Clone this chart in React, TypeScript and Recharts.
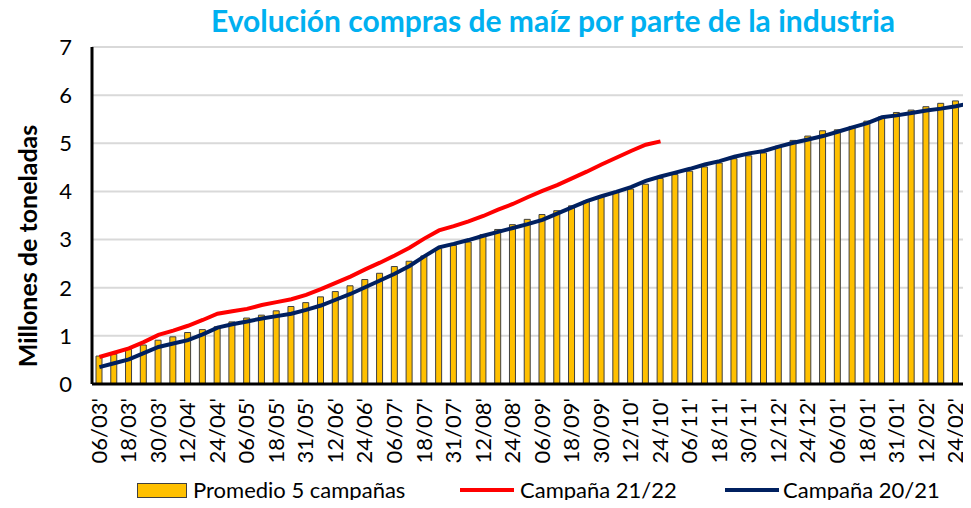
import React from 'react';
import {
  ComposedChart,
  Bar,
  Line,
  XAxis,
  YAxis,
  CartesianGrid,
  Legend,
  Label,
} from 'recharts';

const fechas = [
  "06/03'", "12/03'", "18/03'", "24/03'", "30/03'", "06/04'", "12/04'", "18/04'", "24/04'", "30/04'",
  "06/05'", "12/05'", "18/05'", "24/05'", "31/05'", "06/06'", "12/06'", "18/06'", "24/06'", "30/06'",
  "06/07'", "12/07'", "18/07'", "24/07'", "31/07'", "06/08'", "12/08'", "18/08'", "24/08'", "31/08'",
  "06/09'", "12/09'", "18/09'", "24/09'", "30/09'", "06/10'", "12/10'", "18/10'", "24/10'", "31/10'",
  "06/11'", "12/11'", "18/11'", "24/11'", "30/11'", "06/12'", "12/12'", "18/12'", "24/12'", "31/12'",
  "06/01'", "12/01'", "18/01'", "24/01'", "31/01'", "06/02'", "12/02'", "18/02'", "24/02'", "28/02'",
];

const promedio5 = [
  0.58, 0.62, 0.72, 0.81, 0.91, 0.98, 1.07, 1.13, 1.19, 1.29,
  1.37, 1.43, 1.52, 1.61, 1.69, 1.81, 1.92, 2.04, 2.17, 2.3,
  2.44, 2.55, 2.66, 2.81, 2.88, 2.95, 3.1, 3.21, 3.31, 3.42,
  3.52, 3.6, 3.7, 3.8, 3.9, 4.0, 4.05, 4.15, 4.27, 4.35,
  4.42, 4.51, 4.59, 4.68, 4.74, 4.8, 4.94, 5.06, 5.15, 5.26,
  5.28, 5.35, 5.46, 5.55, 5.64, 5.69, 5.76, 5.83, 5.88, 5.95,
];

// campaña actual, llega hasta 24/10
const campana2122 = [
  0.56, 0.65, 0.74, 0.87, 1.02, 1.11, 1.21, 1.33, 1.46, 1.51,
  1.56, 1.64, 1.7, 1.76, 1.85, 1.97, 2.1, 2.23, 2.38, 2.52,
  2.67, 2.83, 3.02, 3.19, 3.28, 3.38, 3.49, 3.62, 3.74, 3.88,
  4.01, 4.13, 4.27, 4.41, 4.56, 4.7, 4.84, 4.97, 5.04,
];

const campana2021 = [
  0.35, 0.43, 0.51, 0.64, 0.77, 0.84, 0.91, 1.03, 1.17, 1.24,
  1.3, 1.36, 1.41, 1.46, 1.54, 1.63, 1.75, 1.87, 2.01, 2.15,
  2.29, 2.45, 2.65, 2.84, 2.91, 2.99, 3.08, 3.16, 3.24, 3.32,
  3.41, 3.54, 3.67, 3.8, 3.9, 3.99, 4.09, 4.22, 4.31, 4.39,
  4.47, 4.56, 4.63, 4.72, 4.79, 4.84, 4.93, 5.01, 5.08, 5.15,
  5.24, 5.33, 5.42, 5.54, 5.58, 5.63, 5.68, 5.72, 5.77, 5.83,
];

const yTicks = [0, 1, 2, 3, 4, 5, 6, 7];

const data = fechas.map((f, i) => ({
  fecha: f,
  promedio: promedio5[i],
  c2122: i < campana2122.length ? campana2122[i] : null,
  c2021: campana2021[i],
}));

const FONT = 'Lato, Carlito, Calibri, sans-serif';

const FechaTick = (props: any) => {
  const { x, y, payload } = props;
  return (
    <g transform={`translate(${x},${y})`}>
      <text
        x={0}
        y={0}
        dy="0.33em"
        textAnchor="end"
        transform="rotate(-90)"
        fontSize={22}
        fontFamily={FONT}
        fill="#000"
      >
        {payload.value}
      </text>
    </g>
  );
};

const renderLegend = () => {
  const txt: React.CSSProperties = {
    position: 'absolute',
    top: 0,
    fontSize: 22,
    fontFamily: FONT,
    color: '#000',
    lineHeight: '24px',
    whiteSpace: 'nowrap',
  };
  return (
    <div style={{ position: 'relative', width: 971, height: 24 }}>
      <div style={{ position: 'absolute', left: 137, top: 5, width: 48, height: 13, background: '#FFC000', border: '1px solid #404040' }} />
      <span style={{ ...txt, left: 193 }}>Promedio 5 campañas</span>
      <div style={{ position: 'absolute', left: 460, top: 10, width: 54, height: 4, background: '#FF0000' }} />
      <span style={{ ...txt, left: 520 }}>Campaña 21/22</span>
      <div style={{ position: 'absolute', left: 725, top: 10, width: 54, height: 4, background: '#002060' }} />
      <span style={{ ...txt, left: 783 }}>Campaña 20/21</span>
    </div>
  );
};

export default function App() {
  return (
    <div style={{ position: 'relative', margin: -8, width: 971, height: 508, overflow: 'hidden', background: '#fff' }}>
      <div
        style={{
          position: 'absolute',
          left: 553,
          top: 2,
          transform: 'translateX(-50%)',
          whiteSpace: 'nowrap',
          color: '#00B0F0',
          fontWeight: 700,
          fontSize: 30,
          lineHeight: '36px',
          fontFamily: FONT,
          zIndex: 2,
        }}
      >
        Evolución compras de maíz por parte de la industria
      </div>
      <ComposedChart
        width={978}
        height={508}
        data={data}
        margin={{ top: 47, right: 0, left: 8, bottom: 44 }}
        barCategoryGap={0}
      >
        <CartesianGrid vertical={false} stroke="#D9D9D9" strokeWidth={2} />
        <XAxis
          dataKey="fecha"
          interval={1}
          height={80}
          tickLine={false}
          axisLine={{ stroke: '#000', strokeWidth: 3 }}
          tick={<FechaTick />}
          tickMargin={8}
        />
        <YAxis
          domain={[0, 7]}
          ticks={yTicks}
          width={84}
          tickLine={false}
          tickMargin={14}
          axisLine={{ stroke: '#000', strokeWidth: 3 }}
          tick={{ fontSize: 22, fontFamily: FONT, fill: '#000' }}
        >
          <Label
            content={() => (
              <text
                x={27}
                y={246}
                transform="rotate(-90 27 246)"
                textAnchor="middle"
                dominantBaseline="central"
                fontSize={25}
                fontWeight={700}
                fontFamily={FONT}
                fill="#000"
              >
                Millones de toneladas
              </text>
            )}
          />
        </YAxis>
        <Bar
          dataKey="promedio"
          name="Promedio 5 campañas"
          fill="#FFC000"
          stroke="#404040"
          strokeWidth={1}
          barSize={6}
          isAnimationActive={false}
        />
        <Line
          type="linear"
          dataKey="c2122"
          name="Campaña 21/22"
          stroke="#FF0000"
          strokeWidth={4}
          dot={false}
          activeDot={false}
          isAnimationActive={false}
        />
        <Line
          type="linear"
          dataKey="c2021"
          name="Campaña 20/21"
          stroke="#002060"
          strokeWidth={4}
          dot={false}
          activeDot={false}
          isAnimationActive={false}
        />
        <Legend
          layout="horizontal"
          verticalAlign="middle"
          content={renderLegend}
          wrapperStyle={{ top: 478, left: 0, width: 971 }}
        />
      </ComposedChart>
    </div>
  );
}
